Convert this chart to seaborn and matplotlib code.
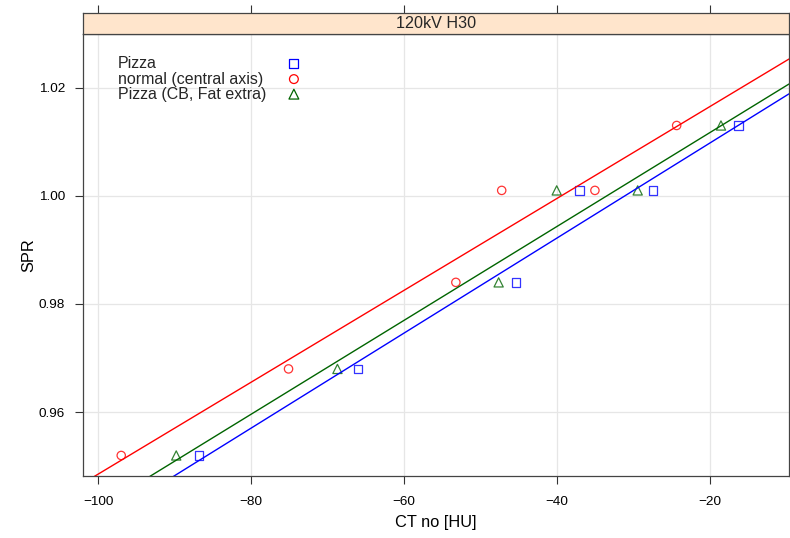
import numpy as np
import pandas as pd
import matplotlib
matplotlib.use("Agg")
import matplotlib.pyplot as plt
import seaborn as sns

# 데이터
spr = [0.952, 0.968, 0.984, 1.001, 1.001, 1.013]
ct_pizza = [-86.8, -66.0, -45.3, -37.0, -27.4, -16.2]
ct_normal = [-97.0, -75.1, -53.2, -47.2, -35.0, -24.3]
ct_pizza_cb = [-89.8, -68.7, -47.6, -40.0, -29.4, -18.5]

series_names = ["Pizza", "normal (central axis)", "Pizza (CB, Fat extra)"]
series_ct = [ct_pizza, ct_normal, ct_pizza_cb]
colors = ["#0000ff", "#ff0000", "#006400"]
markers = ["s", "o", "^"]
panel_title = "120kV H30"

sns.set_theme(style="white")
plt.rcParams['font.family'] = ['Liberation Sans', 'DejaVu Sans']

fig = plt.figure(figsize=(7.9, 5.38), dpi=100)
ax = fig.add_axes([0.1047, 0.1152, 0.894, 0.8225])
strip = fig.add_axes([0.1047, 0.9377, 0.894, 0.0376], sharex=ax)

xlim = (-102.04, -9.6)
ylim = (0.9482, 1.0300)
ax.set_xlim(xlim)
ax.set_ylim(ylim)

for name, ct, c, m in zip(series_names, series_ct, colors, markers):
    df = pd.DataFrame({"ct": ct, "spr": spr})
    sns.regplot(data=df, x="ct", y="spr", ax=ax, ci=None, truncate=False,
                marker=m,
                scatter_kws=dict(facecolors="none", edgecolors=c,
                                 s=44 if m == "^" else 36, linewidths=0.9),
                line_kws=dict(color=c, lw=1.0))
ax.set_xlim(xlim)
ax.set_ylim(ylim)

# 격자와 축
ax.set_xticks([-100, -80, -60, -40, -20])
ax.set_yticks([0.96, 0.98, 1.00, 1.02])
ax.set_xticklabels(["\u2212100", "\u221280", "\u221260", "\u221240", "\u221220"])
ax.set_yticklabels(["0.96", "0.98", "1.00", "1.02"])
ax.grid(True, color="#e6e6e6", lw=0.9)
ax.set_axisbelow(True)
for s in ax.spines.values():
    s.set_color("#444444")
    s.set_linewidth(0.9)
ax.tick_params(axis="both", which="both", direction="out", length=5.8, width=0.8,
               color="#333333", labelsize=9.7, labelcolor="black",
               bottom=True, left=True, right=True, top=False)
ax.tick_params(axis="x", pad=8.7)
ax.tick_params(axis="y", pad=7)
ax.set_xlabel("CT no [HU]", fontsize=11.8, labelpad=5, color="black")
ax.set_ylabel("SPR", fontsize=11.8, labelpad=2, color="black")

# 스트립
strip.set_facecolor("#ffe5cc")
strip.set_yticks([])
strip.tick_params(axis="x", direction="out", length=5.8, width=0.8, color="#333333",
                  top=True, bottom=False, labeltop=False, labelbottom=False)
for s in strip.spines.values():
    s.set_color("#444444")
    s.set_linewidth(0.9)
strip.grid(False)
strip.text(0.5, 0.5, panel_title, transform=strip.transAxes, ha="center", va="center",
           fontsize=11.6)

# 범례 (lattice 스타일 키)
key_y = [0.932, 0.897, 0.863]
for name, c, m, yy in zip(series_names, colors, markers, key_y):
    ax.text(0.050, yy, name, transform=ax.transAxes, ha="left", va="center", fontsize=11.5)
    ax.scatter([0.299], [yy], transform=ax.transAxes, marker=m,
               s=50 if m == "^" else 40,
               facecolors="none", edgecolors=c, linewidths=0.9, clip_on=False)

fig.savefig("out.png", dpi=100)
